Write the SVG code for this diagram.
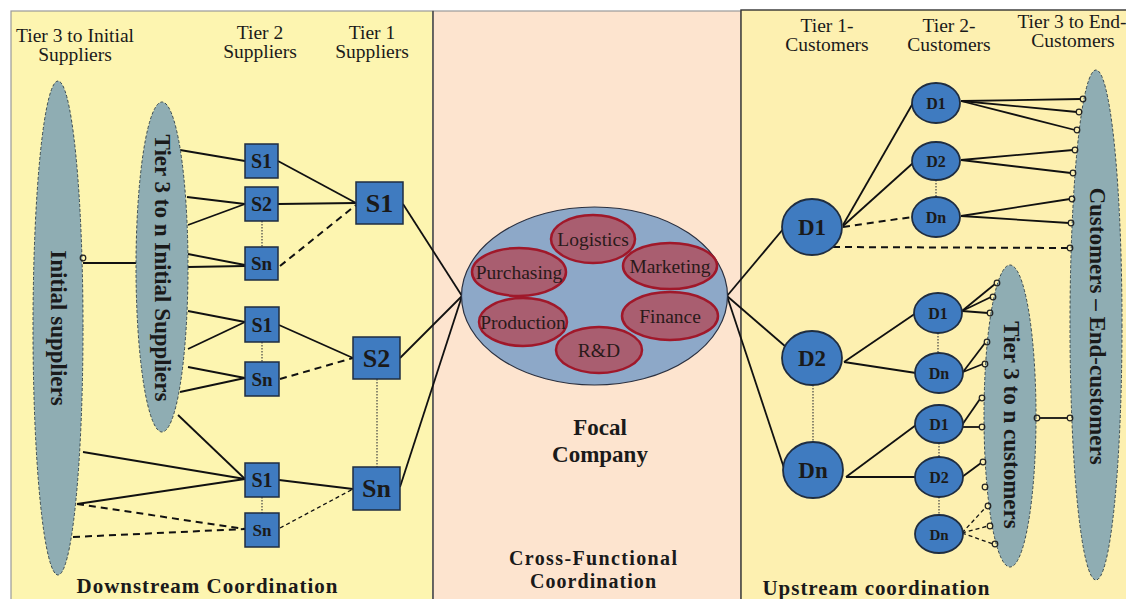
<svg xmlns="http://www.w3.org/2000/svg" width="1126" height="599" viewBox="0 0 1126 599">
  <defs>
    <style>
      .hdr { font-family: "Liberation Serif", "Times New Roman", serif; font-size: 19.5px; fill: #1a1a1a; text-anchor: middle; }
      .bold { font-family: "Liberation Serif", "Times New Roman", serif; font-weight: bold; fill: #1a1a1a; text-anchor: middle; }
      .fn { font-family: "Liberation Serif", "Times New Roman", serif; font-size: 19.5px; fill: #2a1a1a; text-anchor: middle; }
      .oval { fill: #8fadb3; stroke: #3a4a50; stroke-width: 1; stroke-dasharray: 3 2; }
      .sq { fill: #3f7bc0; stroke: #1f2d40; stroke-width: 1.5; }
      .node { fill: #3f7bc0; stroke: #1f2d40; stroke-width: 1.8; }
      .dept { fill: #a95e70; stroke: #a0182a; stroke-width: 2.5; }
      .ln { stroke: #111; stroke-width: 1.8; fill: none; }
      .dash { stroke: #111; stroke-width: 2; fill: none; stroke-dasharray: 7 5; }
      .sdash { stroke: #111; stroke-width: 1.3; fill: none; stroke-dasharray: 4 3; }
      .dot { stroke: #444; stroke-width: 1.2; fill: none; stroke-dasharray: 1.5 1.5; }
      .pin { fill: none; stroke: #222; stroke-width: 1.2; }
    </style>
  </defs>

  <rect width="1126" height="599" fill="#ffffff"/>

  <!-- panels -->
  <g id="panels">
    <rect x="11" y="11" width="422" height="600" fill="#fdf5b0" stroke="#9a9a9a" stroke-width="1.2"/>
    <rect x="433" y="11" width="308" height="600" fill="#fde4cf" stroke="#9a9a9a" stroke-width="1.2"/>
    <line x1="433" y1="11" x2="433" y2="599" stroke="#333" stroke-width="1.2"/>
    <rect x="741" y="10" width="400" height="600" fill="#fdf0b0" stroke="#333" stroke-width="1.4"/>
  </g>

  <!-- column headings -->
  <g id="headings">
    <text class="hdr" x="75" y="42">Tier 3 to Initial</text>
    <text class="hdr" x="75" y="61">Suppliers</text>
    <text class="hdr" x="260" y="39">Tier 2</text>
    <text class="hdr" x="260" y="58">Suppliers</text>
    <text class="hdr" x="372" y="39">Tier 1</text>
    <text class="hdr" x="372" y="58">Suppliers</text>
    <text class="hdr" x="827" y="32">Tier 1-</text>
    <text class="hdr" x="827" y="51">Customers</text>
    <text class="hdr" x="949" y="32">Tier 2-</text>
    <text class="hdr" x="949" y="51">Customers</text>
    <text class="hdr" x="1072" y="28">Tier 3 to End-</text>
    <text class="hdr" x="1073" y="47">Customers</text>
  </g>

  <!-- connectors -->
  <g id="connectors">
    <!-- supplier side, upper group -->
    <line class="ln" x1="83" y1="263" x2="139" y2="263"/>
    <line class="ln" x1="180" y1="150" x2="245" y2="161"/>
    <line class="ln" x1="187" y1="197" x2="245" y2="204"/>
    <line class="ln" x1="188" y1="225" x2="245" y2="204"/>
    <line class="ln" x1="188" y1="254" x2="245" y2="265"/>
    <line class="ln" x1="188" y1="267" x2="245" y2="266"/>
    <line class="ln" x1="278" y1="161" x2="356" y2="203"/>
    <line class="ln" x1="278" y1="204" x2="356" y2="203"/>
    <line class="dash" x1="280" y1="266" x2="356" y2="205"/>
    <line class="dot" x1="262" y1="221" x2="262" y2="247"/>
    <line class="ln" x1="403" y1="204" x2="462" y2="296"/>
    <!-- supplier side, middle group -->
    <line class="ln" x1="188" y1="311" x2="245" y2="322"/>
    <line class="ln" x1="188" y1="349" x2="245" y2="322"/>
    <line class="ln" x1="188" y1="367" x2="245" y2="378"/>
    <line class="ln" x1="180" y1="392" x2="245" y2="378"/>
    <line class="ln" x1="279" y1="325" x2="353" y2="358"/>
    <line class="dash" x1="280" y1="379" x2="353" y2="358"/>
    <line class="dot" x1="262" y1="342" x2="262" y2="362"/>
    <line class="ln" x1="400" y1="358" x2="462" y2="296"/>
    <line class="dot" x1="377" y1="379" x2="377" y2="467"/>
    <!-- supplier side, lower group -->
    <line class="ln" x1="178" y1="415" x2="245" y2="479"/>
    <line class="ln" x1="83" y1="452" x2="245" y2="479"/>
    <line class="ln" x1="77" y1="504" x2="245" y2="479"/>
    <line class="dash" x1="77" y1="504" x2="245" y2="529"/>
    <line class="dash" x1="73" y1="537" x2="245" y2="529"/>
    <line class="ln" x1="279" y1="480" x2="353" y2="489"/>
    <line class="sdash" x1="280" y1="528" x2="353" y2="489"/>
    <line class="dot" x1="262" y1="497" x2="262" y2="513"/>
    <line class="ln" x1="400" y1="487" x2="462" y2="296"/>

    <!-- customer side, tier 1 -->
    <line class="ln" x1="727" y1="296" x2="784" y2="228"/>
    <line class="ln" x1="727" y1="296" x2="786" y2="347"/>
    <line class="ln" x1="727" y1="296" x2="784" y2="468"/>
    <line class="dot" x1="813" y1="385" x2="813" y2="443"/>
    <!-- D1 branch -->
    <line class="ln" x1="843" y1="225" x2="913" y2="103"/>
    <line class="ln" x1="843" y1="226" x2="913" y2="163"/>
    <line class="dash" x1="843" y1="227" x2="912" y2="217"/>
    <line class="dash" x1="833" y1="247" x2="1068" y2="248"/>
    <line class="dot" x1="936" y1="180" x2="936" y2="198"/>
    <line class="ln" x1="961" y1="101" x2="1081" y2="99"/>
    <line class="ln" x1="961" y1="101" x2="1077" y2="112"/>
    <line class="ln" x1="961" y1="101" x2="1075" y2="130"/>
    <line class="ln" x1="961" y1="160" x2="1073" y2="150"/>
    <line class="ln" x1="961" y1="160" x2="1071" y2="173"/>
    <line class="ln" x1="961" y1="216" x2="1070" y2="199"/>
    <line class="ln" x1="961" y1="216" x2="1069" y2="223"/>
    <!-- D2 branch -->
    <line class="ln" x1="844" y1="362" x2="916" y2="313"/>
    <line class="ln" x1="844" y1="362" x2="916" y2="373"/>
    <line class="dot" x1="938" y1="333" x2="938" y2="353"/>
    <line class="ln" x1="962" y1="311" x2="995" y2="284"/>
    <line class="ln" x1="962" y1="311" x2="991" y2="297"/>
    <line class="ln" x1="962" y1="311" x2="988" y2="313"/>
    <line class="ln" x1="963" y1="372" x2="985" y2="343"/>
    <line class="ln" x1="963" y1="372" x2="983" y2="364"/>
    <!-- Dn branch -->
    <line class="ln" x1="846" y1="477" x2="916" y2="425"/>
    <line class="ln" x1="846" y1="477" x2="916" y2="477"/>
    <line class="dot" x1="939" y1="443" x2="939" y2="458"/>
    <line class="dot" x1="939" y1="497" x2="939" y2="515"/>
    <line class="ln" x1="962" y1="425" x2="980" y2="399"/>
    <line class="ln" x1="962" y1="427" x2="980" y2="427"/>
    <line class="ln" x1="962" y1="477" x2="981" y2="463"/>
    <line class="sdash" x1="962" y1="533" x2="986" y2="507"/>
    <line class="sdash" x1="962" y1="533" x2="988" y2="526"/>
    <line class="sdash" x1="962" y1="533" x2="993" y2="544"/>
    <line class="ln" x1="1039" y1="418" x2="1068" y2="418"/>
  </g>

  <!-- tier 3 supplier groups -->
  <g id="initial-suppliers">
    <ellipse class="oval" cx="58" cy="328" rx="25" ry="247"/>
    <text class="bold" font-size="23" transform="translate(58,328) rotate(90)" dominant-baseline="central">Initial suppliers</text>
    <circle class="pin" cx="83" cy="258" r="2.8"/>
  </g>
  <g id="tier3-suppliers">
    <ellipse class="oval" cx="162" cy="267" rx="26" ry="165"/>
    <text class="bold" font-size="23" transform="translate(162,268) rotate(90)" dominant-baseline="central">Tier 3 to n Initial Suppliers</text>
  </g>

  <!-- tier 2 suppliers -->
  <g id="t2-s1-a"><rect class="sq" x="245" y="144" width="33" height="34"/><text class="bold" font-size="20" x="261.5" y="168">S1</text></g>
  <g id="t2-s2-a"><rect class="sq" x="245" y="187" width="33" height="34"/><text class="bold" font-size="20" x="261.5" y="211">S2</text></g>
  <g id="t2-sn-a"><rect class="sq" x="245" y="247" width="33" height="33"/><text class="bold" font-size="19" x="261.5" y="270">Sn</text></g>
  <g id="t2-s1-b"><rect class="sq" x="245" y="307" width="34" height="35"/><text class="bold" font-size="20" x="262" y="332">S1</text></g>
  <g id="t2-sn-b"><rect class="sq" x="245" y="362" width="34" height="34"/><text class="bold" font-size="19" x="262" y="386">Sn</text></g>
  <g id="t2-s1-c"><rect class="sq" x="245" y="463" width="34" height="34"/><text class="bold" font-size="20" x="262" y="487">S1</text></g>
  <g id="t2-sn-c"><rect class="sq" x="245" y="513" width="34" height="34"/><text class="bold" font-size="17" x="262" y="536">Sn</text></g>

  <!-- tier 1 suppliers -->
  <g id="t1-s1"><rect class="sq" x="356" y="182" width="47" height="42"/><text class="bold" font-size="26" x="379.5" y="212">S1</text></g>
  <g id="t1-s2"><rect class="sq" x="353" y="337" width="47" height="42"/><text class="bold" font-size="26" x="376.5" y="367">S2</text></g>
  <g id="t1-sn"><rect class="sq" x="353" y="467" width="47" height="43"/><text class="bold" font-size="26" x="376.5" y="497">Sn</text></g>

  <!-- focal company -->
  <g id="focal-company">
    <ellipse cx="594.5" cy="296" rx="133" ry="89" fill="#8da8c8" stroke="#2a3040" stroke-width="1.2"/>
    <ellipse class="dept" cx="593" cy="239" rx="42" ry="24"/>
    <text class="fn" x="593" y="246">Logistics</text>
    <ellipse class="dept" cx="519" cy="272" rx="47" ry="24"/>
    <text class="fn" x="519" y="279">Purchasing</text>
    <ellipse class="dept" cx="670" cy="266" rx="47" ry="23"/>
    <text class="fn" x="670" y="273">Marketing</text>
    <ellipse class="dept" cx="523" cy="322" rx="44" ry="24"/>
    <text class="fn" x="523" y="329">Production</text>
    <ellipse class="dept" cx="670" cy="316" rx="48" ry="24"/>
    <text class="fn" x="670" y="323">Finance</text>
    <ellipse class="dept" cx="599" cy="350" rx="43" ry="23"/>
    <text class="fn" x="599" y="357">R&amp;D</text>
    <text class="bold" font-size="23" x="600" y="435">Focal</text>
    <text class="bold" font-size="23" x="600" y="462">Company</text>
  </g>

  <!-- end customers -->
  <g id="end-customers">
    <ellipse class="oval" cx="1096" cy="325" rx="26" ry="255"/>
    <text class="bold" font-size="23" transform="translate(1097,326) rotate(90)" dominant-baseline="central">Customers – End-customers</text>
    <circle class="pin" cx="1083" cy="99" r="2.8"/>
    <circle class="pin" cx="1079" cy="112" r="2.8"/>
    <circle class="pin" cx="1077" cy="130" r="2.8"/>
    <circle class="pin" cx="1075" cy="150" r="2.8"/>
    <circle class="pin" cx="1073" cy="173" r="2.8"/>
    <circle class="pin" cx="1072" cy="199" r="2.8"/>
    <circle class="pin" cx="1071" cy="223" r="2.8"/>
    <circle class="pin" cx="1070" cy="248" r="2.8"/>
    <circle class="pin" cx="1070" cy="418" r="2.8"/>
  </g>
  <g id="tier3-customers">
    <ellipse class="oval" cx="1010" cy="416" rx="26" ry="151"/>
    <text class="bold" font-size="23" transform="translate(1011,425) rotate(90)" dominant-baseline="central">Tier 3 to n customers</text>
    <circle class="pin" cx="997" cy="283" r="2.8"/>
    <circle class="pin" cx="993" cy="297" r="2.8"/>
    <circle class="pin" cx="990" cy="313" r="2.8"/>
    <circle class="pin" cx="987" cy="342" r="2.8"/>
    <circle class="pin" cx="985" cy="364" r="2.8"/>
    <circle class="pin" cx="982" cy="398" r="2.8"/>
    <circle class="pin" cx="982" cy="427" r="2.8"/>
    <circle class="pin" cx="983" cy="462" r="2.8"/>
    <circle class="pin" cx="985" cy="487" r="2.8"/>
    <circle class="pin" cx="988" cy="506" r="2.8"/>
    <circle class="pin" cx="990" cy="526" r="2.8"/>
    <circle class="pin" cx="995" cy="544" r="2.8"/>
    <circle class="pin" cx="1037" cy="418" r="2.8"/>
  </g>

  <!-- tier 1 customers -->
  <g id="c1-d1"><ellipse class="node" cx="812" cy="227" rx="30" ry="28"/><text class="bold" font-size="23" x="812" y="235">D1</text></g>
  <g id="c1-d2"><ellipse class="node" cx="812" cy="358" rx="30" ry="27"/><text class="bold" font-size="23" x="812" y="366">D2</text></g>
  <g id="c1-dn"><ellipse class="node" cx="813" cy="470" rx="30" ry="28"/><text class="bold" font-size="23" x="813" y="478">Dn</text></g>

  <!-- tier 2 customers -->
  <g id="c2-d1-a"><ellipse class="node" cx="936" cy="103" rx="24" ry="20"/><text class="bold" font-size="16" x="936" y="109">D1</text></g>
  <g id="c2-d2-a"><ellipse class="node" cx="936" cy="161" rx="24" ry="19"/><text class="bold" font-size="16" x="936" y="167">D2</text></g>
  <g id="c2-dn-a"><ellipse class="node" cx="936" cy="217" rx="24" ry="20"/><text class="bold" font-size="16" x="936" y="223">Dn</text></g>
  <g id="c2-d1-b"><ellipse class="node" cx="938" cy="313" rx="24" ry="20"/><text class="bold" font-size="16" x="938" y="319">D1</text></g>
  <g id="c2-dn-b"><ellipse class="node" cx="939" cy="373" rx="24" ry="20"/><text class="bold" font-size="16" x="939" y="379">Dn</text></g>
  <g id="c2-d1-c"><ellipse class="node" cx="939" cy="424" rx="24" ry="19"/><text class="bold" font-size="16" x="939" y="430">D1</text></g>
  <g id="c2-d2-c"><ellipse class="node" cx="939" cy="477" rx="24" ry="20"/><text class="bold" font-size="16" x="939" y="483">D2</text></g>
  <g id="c2-dn-c"><ellipse class="node" cx="939" cy="534" rx="24" ry="19"/><text class="bold" font-size="15" x="939" y="540">Dn</text></g>

  <!-- panel captions -->
  <g id="captions">
    <text class="bold" font-size="21" x="207" y="593" textLength="261" lengthAdjust="spacing">Downstream  Coordination</text>
    <text class="bold" font-size="20" x="593" y="565" textLength="168" lengthAdjust="spacing">Cross-Functional</text>
    <text class="bold" font-size="20" x="593" y="588" textLength="126" lengthAdjust="spacing">Coordination</text>
    <text class="bold" font-size="21" x="876" y="595" textLength="227" lengthAdjust="spacing">Upstream coordination</text>
  </g>
</svg>
